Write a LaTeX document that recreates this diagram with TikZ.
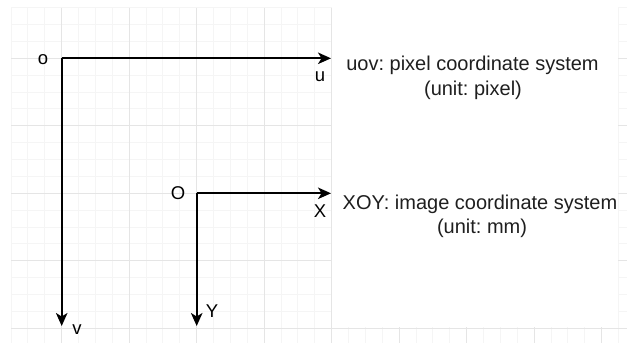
\documentclass[tikz,border=0pt]{standalone}
\usepackage{fontspec}
\setmainfont{Liberation Sans}
\usetikzlibrary{arrows.meta}
\frenchspacing
\tikzset{
  axis/.style={line width=1.8pt, line join=miter, -{Stealth[length=13pt,width=11.5pt,inset=3.5pt]}},
  lbl/.style={font=\fontsize{18.5}{22}\selectfont, text=black, inner sep=0pt},
  desc/.style={font=\fontsize{20}{24}\selectfont\frenchspacing, text=black!88, inner sep=0pt, anchor=base},
  minorgrid/.style={draw=black!4, line width=1pt},
  majorgrid/.style={draw=black!10, line width=1pt}
}
\begin{document}
\begin{tikzpicture}[x=1pt,y=-1pt]
\useasboundingbox (0,0) rectangle (627,343);
\fill[white] (0,0) rectangle (627,343);
% grid
\foreach \i in {0,...,36} {
  \pgfmathsetmacro{\gx}{11.1+\i*16.875}
  \draw[minorgrid] (\gx,7.7) -- (\gx,343);
}
\foreach \j in {0,...,19} {
  \pgfmathsetmacro{\gy}{7.7+\j*16.875}
  \draw[minorgrid] (11.1,\gy) -- (627,\gy);
}
\foreach \i in {0,...,8} {
  \pgfmathsetmacro{\gx}{61.7+\i*67.5}
  \draw[majorgrid] (\gx,7.7) -- (\gx,343);
}
\foreach \j in {0,...,4} {
  \pgfmathsetmacro{\gy}{58.3+\j*67.5}
  \draw[majorgrid] (11.1,\gy) -- (627,\gy);
}
% white text area
\fill[white] (331.5,0) rectangle (618,327);
% pixel coordinate system
\coordinate (po) at (61.7,58.3);
\coordinate (pu) at (331,58.3);
\coordinate (pv) at (61.7,326);
\draw[axis] (po) -- (pu);
\draw[axis] (po) -- (pv);
\node[lbl] (lo) at (43,60) {o};
\node[lbl] (lu) at (320,77) {u};
\node[lbl] (lv) at (77,330) {v};
% image coordinate system
\coordinate (io) at (196.7,193.3);
\coordinate (ix) at (331,193.3);
\coordinate (iy) at (196.7,326);
\draw[axis] (io) -- (ix);
\draw[axis] (io) -- (iy);
\node[lbl] (lO) at (178,193) {O};
\node[lbl] (lX) at (320,211) {X};
\node[lbl] (lY) at (212,311) {Y};
% descriptions
\node[desc] (d1) at (472.5,70.7) {uov: pixel coordinate system};
\node[desc] (d2) at (473,95) {(unit: pixel)};
\node[desc] (d3) at (480,209) {XOY: image coordinate system};
\node[desc] (d4) at (482,233) {(unit: mm)};
\end{tikzpicture}
\end{document}
